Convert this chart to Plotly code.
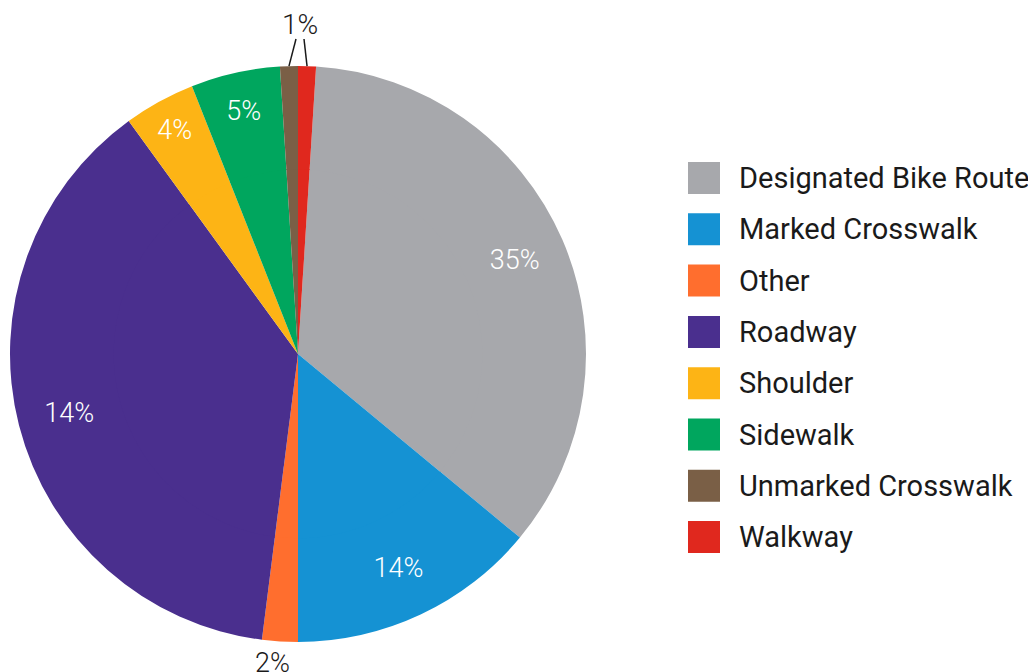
import math
import plotly.graph_objects as go

W, H = 1036, 672

labels = ["Designated Bike Route", "Marked Crosswalk", "Other", "Roadway",
          "Shoulder", "Sidewalk", "Unmarked Crosswalk", "Walkway"]
values = [35, 14, 2, 38, 4, 5, 1, 1]
pct_text = ["35%", "14%", "", "14%", "4%", "5%", "", ""]
colors = ["#A7A8AC", "#1592D3", "#FF6E2E", "#4A2F8E",
          "#FDB415", "#00A65E", "#7A5F46", "#E0281E"]
small_label = "1%"      # shared label for Unmarked Crosswalk + Walkway
other_label = "2%"

FONT = "Roboto"
ROT = 3.6
# pie geometry in figure pixels (page has ~8px body margin)
CX, CY, R = 290, 346, 288
HOLE = 0.64


def px(x, y):
    return x / W, 1 - y / H


def dom(r):
    x0, y1 = px(CX - r, CY - r)
    x1, y0 = px(CX + r, CY + r)
    return dict(x=[x0, x1], y=[y0, y1])


def slice_point(i, frac):
    tot = sum(values)
    ang = ROT + 360 * (sum(values[:i]) + values[i] / 2) / tot
    a = math.radians(ang)
    return CX + frac * R * math.sin(a), CY - frac * R * math.cos(a)


fig = go.Figure()
# filled inner disk (no text)
fig.add_trace(go.Pie(
    labels=labels, values=values, textinfo="none", sort=False,
    direction="clockwise", rotation=ROT,
    marker=dict(colors=colors, line=dict(color="white", width=0)),
    domain=dom(R * HOLE + 1), showlegend=False, hoverinfo="label+percent",
))
# outer ring carrying the percentage labels
fig.add_trace(go.Pie(
    labels=labels, values=values, text=pct_text, textinfo="text",
    textposition="inside", sort=False, direction="clockwise", rotation=ROT,
    hole=HOLE,
    marker=dict(colors=colors, line=dict(color="white", width=0)),
    insidetextfont=dict(color="white", size=27, family=FONT, weight=300),
    insidetextorientation="horizontal",
    domain=dom(R), showlegend=False, hoverinfo="label+percent",
))

shapes, annotations = [], []

# "1%" label with two leader lines to the small slices
lx, ly = CX + 2, CY - R - 42
annotations.append(dict(text=small_label, x=px(lx, ly)[0], y=px(lx, ly)[1],
                        xref="paper", yref="paper", showarrow=False,
                        xanchor="center", yanchor="middle",
                        font=dict(size=28, color="#1a1a1a", family=FONT, weight=300)))
for i, dx in ((6, -4), (7, 4)):
    sx, sy = slice_point(i, 1.0)
    x0, y0 = px(sx, sy)
    x1, y1 = px(lx + dx, ly + 15)
    shapes.append(dict(type="line", xref="paper", yref="paper",
                       x0=x0, y0=y0, x1=x1, y1=y1,
                       line=dict(color="#1a1a1a", width=1.5)))

# "2%" label below the Other slice
ox, _ = slice_point(2, 1.0)
annotations.append(dict(text=other_label, x=px(ox - 7, 0)[0], y=px(0, CY + R + 21)[1],
                        xref="paper", yref="paper", showarrow=False,
                        xanchor="center", yanchor="middle",
                        font=dict(size=27, color="#1a1a1a", family=FONT, weight=300)))

# legend drawn as squares + labels
for i, (lab, col) in enumerate(zip(labels, colors)):
    yc = 170 + i * 51.3
    x0, y0 = px(680, yc - 16)
    x1, y1 = px(712, yc + 16)
    shapes.append(dict(type="rect", xref="paper", yref="paper",
                       x0=x0, x1=x1, y0=y1, y1=y0,
                       fillcolor=col, line=dict(width=0)))
    tx, ty = px(729, yc)
    annotations.append(dict(text=lab, x=tx, y=ty, xref="paper", yref="paper",
                            xanchor="left", yanchor="middle", showarrow=False,
                            font=dict(size=29, color="#1a1a1a", family=FONT)))

fig.update_layout(
    width=W, height=H,
    margin=dict(l=0, r=0, t=0, b=0),
    paper_bgcolor="white", plot_bgcolor="white",
    shapes=shapes, annotations=annotations,
    font=dict(family=FONT),
)

fig.write_html("out.html")
